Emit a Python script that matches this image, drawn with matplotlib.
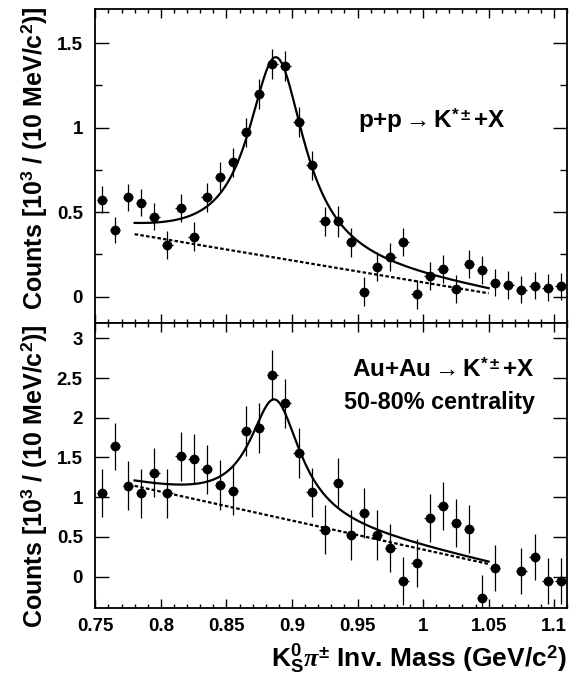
import numpy as np
import matplotlib
matplotlib.use("Agg")
import matplotlib.pyplot as plt
from matplotlib.ticker import MultipleLocator, FuncFormatter

plt.rcParams['font.family'] = ['Liberation Sans', 'DejaVu Sans']
plt.rcParams['font.weight'] = 'bold'
plt.rcParams['mathtext.fontset'] = 'custom'
plt.rcParams['mathtext.rm'] = 'Liberation Sans:bold'
plt.rcParams['mathtext.bf'] = 'Liberation Sans:bold'
plt.rcParams['mathtext.it'] = 'Liberation Serif:italic'
plt.rcParams['mathtext.sf'] = 'Liberation Sans:bold'

# ---- data ----
mass = [0.755, 0.765, 0.775, 0.785, 0.795, 0.805, 0.815, 0.825, 0.835, 0.845,
        0.855, 0.865, 0.875, 0.885, 0.895, 0.905, 0.915, 0.925, 0.935, 0.945,
        0.955, 0.965, 0.975, 0.985, 0.995, 1.005, 1.015, 1.025, 1.035, 1.045,
        1.055, 1.065, 1.075, 1.085, 1.095, 1.105]

pp_counts = [0.573, 0.395, 0.589, 0.557, 0.474, 0.306, 0.524, 0.356, 0.589, 0.711,
             0.796, 0.972, 1.199, 1.379, 1.364, 1.034, 0.777, 0.445, 0.445, 0.322,
             0.030, 0.178, 0.233, 0.322, 0.014, 0.123, 0.166, 0.045, 0.194, 0.158,
             0.083, 0.069, 0.040, 0.065, 0.053, 0.063]
pp_err = [0.079, 0.077, 0.080, 0.082, 0.081, 0.081, 0.082, 0.083, 0.085, 0.085,
          0.085, 0.087, 0.089, 0.089, 0.090, 0.089, 0.086, 0.087, 0.089, 0.086,
          0.085, 0.085, 0.084, 0.084, 0.084, 0.083, 0.083, 0.082, 0.082, 0.082,
          0.081, 0.081, 0.080, 0.080, 0.080, 0.080]

auau_counts = [1.050, 1.639, 1.143, 1.050, 1.311, 1.050, 1.513, 1.483, 1.353, 1.155,
               1.080, 1.828, 1.866, 2.538, 2.181, 1.555, 1.063, 0.592, 1.181, 0.525,
               0.803, 0.525, 0.357, -0.050, 0.168, 0.739, 0.891, 0.672, 0.601, -0.273,
               0.105, np.nan, 0.076, 0.244, -0.050, -0.050]
auau_err = [0.30, 0.30, 0.31, 0.31, 0.31, 0.31, 0.31, 0.31, 0.31, 0.31,
            0.31, 0.315, 0.315, 0.31, 0.31, 0.31, 0.31, 0.31, 0.31, 0.31,
            0.31, 0.31, 0.30, 0.30, 0.30, 0.30, 0.30, 0.30, 0.30, 0.29,
            0.29, 0.29, 0.29, 0.29, 0.29, 0.29]

# fit parameters (Breit-Wigner + linear background), fit range
fit_range = (0.78, 1.05)
pp_fit = dict(m0=0.888, half_width=0.0263, amp=1.187, bg0=0.370, bg1=0.020)
auau_fit = dict(m0=0.887, half_width=0.0236, amp=1.477, bg0=1.143, bg1=0.160)


def fit_curves(p):
    x = np.linspace(fit_range[0], fit_range[1], 300)
    bg = p['bg0'] + (p['bg1'] - p['bg0']) * (x - fit_range[0]) / (fit_range[1] - fit_range[0])
    g2 = p['half_width'] ** 2
    bw = p['amp'] * g2 / ((x - p['m0']) ** 2 + g2)
    return x, bg + bw, bg


W, H = 576, 675
fig = plt.figure(figsize=(W / 100, H / 100), dpi=100)
left = 95.3 / W
width = (567.3 - 95.3) / W
ax1 = fig.add_axes([left, 1 - 322.7 / H, width, (322.7 - 9.4) / H])
ax2 = fig.add_axes([left, 1 - 608 / H, width, (608 - 322.7) / H])

fmt = FuncFormatter(lambda v, p: ('%g' % v))

for ax, y, e, p, ylim in [(ax1, pp_counts, pp_err, pp_fit, (-0.154, 1.70)),
                          (ax2, auau_counts, auau_err, auau_fit, (-0.394, 3.196))]:
    ax.errorbar(mass, y, yerr=e, xerr=0.004, fmt='o', color='black', ms=6.0,
                elinewidth=0.9, capsize=0, zorder=3)
    x, tot, bg = fit_curves(p)
    ax.plot(x, tot, color='black', lw=1.6, zorder=4)
    ax.plot(x, bg, color='black', lw=1.6, ls=(0, (1.6, 1.0)), zorder=4)
    ax.set_xlim(0.75, 1.11)
    ax.set_ylim(*ylim)
    ax.xaxis.set_major_locator(MultipleLocator(0.05))
    ax.xaxis.set_minor_locator(MultipleLocator(0.01))
    ax.yaxis.set_major_locator(MultipleLocator(0.5))
    ax.yaxis.set_major_formatter(fmt)
    ax.xaxis.set_major_formatter(fmt)
    ax.tick_params(which='both', direction='in', top=True, right=True, width=1.0)
    ax.tick_params(axis='x', which='major', length=6.5)
    ax.tick_params(axis='x', which='minor', length=3.2)
    ax.tick_params(axis='y', which='major', length=10, pad=9)
    ax.tick_params(axis='y', which='minor', length=5)
    ax.tick_params(labelsize=13.5)
    for s in ax.spines.values():
        s.set_linewidth(1.3)
    for lab in ax.get_yticklabels() + ax.get_xticklabels():
        lab.set_fontweight('bold')

ax1.yaxis.set_minor_locator(MultipleLocator(0.25))
ax1.tick_params(axis='x', labelbottom=False)
ax2.tick_params(axis='y', which='minor', left=False, right=False)
ax2.tick_params(axis='x', pad=7)

ylab = r'Counts [10$^{\mathbf{3}}$ / (10 MeV/c$^{\mathbf{2}}$)]'
fig.text(34 / W, 1 - 158 / H, ylab, rotation=90, ha='center', va='center',
         fontsize=18, fontweight='bold')
fig.text(34 / W, 1 - 476 / H, ylab, rotation=90, ha='center', va='center',
         fontsize=18, fontweight='bold')

fig.text(567 / W, 1 - 659 / H,
         r'K$^{\mathbf{0}}_{\mathbf{S}}\pi^{\pm}$ Inv. Mass (GeV/c$^{\mathbf{2}}$)',
         ha='right', va='center', fontsize=19, fontweight='bold')

ax1.text(0.950, 1.04, r'p+p$\rightarrow$K$^{*\pm}$+X', ha='left', va='center',
         fontsize=17.5, fontweight='bold')
ax2.text(0.9455, 2.60, r'Au+Au$\rightarrow$K$^{*\pm}$+X', ha='left', va='center',
         fontsize=17.5, fontweight='bold')
ax2.text(0.9395, 2.19, '50-80% centrality', ha='left', va='center',
         fontsize=16.8, fontweight='bold')

fig.savefig('out.png', dpi=100)
